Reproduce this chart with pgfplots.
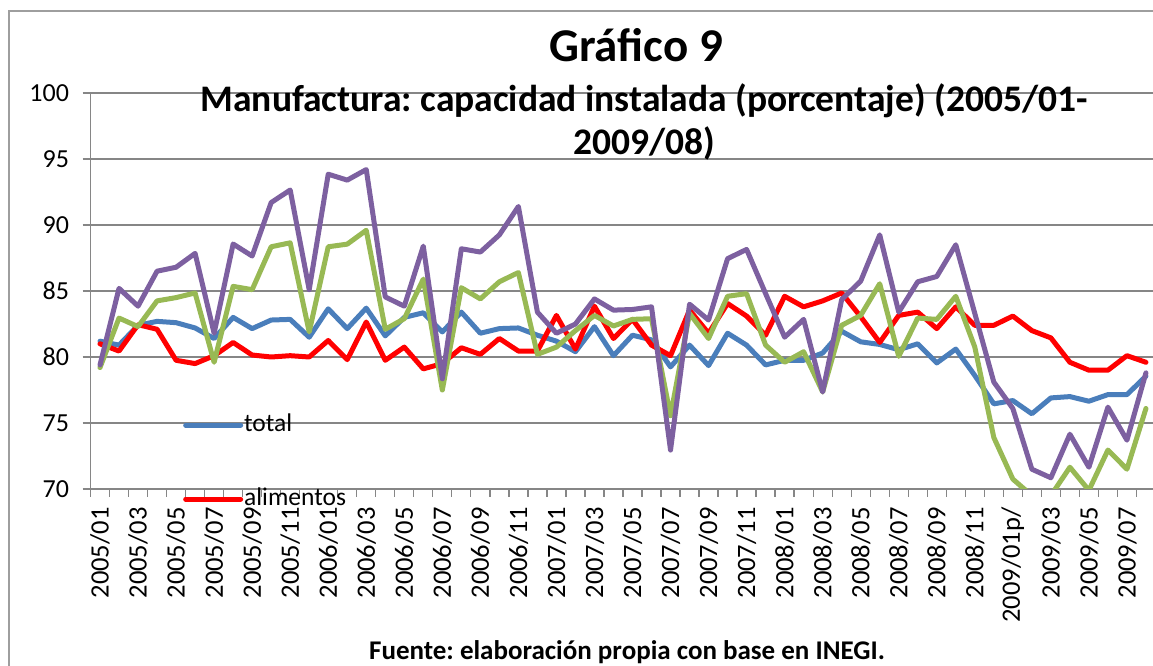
\documentclass[border=0pt]{standalone}
\usepackage{fontspec}
\setmainfont{Carlito}
\usepackage{pgfplots}
\pgfplotsset{compat=1.18}
\frenchspacing

\definecolor{cTotal}{HTML}{4A7EBB}
\definecolor{cAlim}{HTML}{FF0000}
\definecolor{cGreen}{HTML}{98B954}
\definecolor{cPurple}{HTML}{7D60A0}
\definecolor{cGrid}{HTML}{868686}

\pgfplotstableread{
i total alim verde morado
0 81.2 81.0 79.2 79.4
1 80.9 80.45 82.95 85.2
2 82.4 82.45 82.3 83.85
3 82.7 82.1 84.25 86.5
4 82.6 79.75 84.5 86.8
5 82.2 79.5 84.85 87.85
6 81.4 80.1 79.6 81.8
7 83.0 81.1 85.35 88.56
8 82.15 80.15 85.1 87.65
9 82.8 80.0 88.35 91.7
10 82.85 80.1 88.65 92.65
11 81.5 80.0 81.9 85.1
12 83.65 81.25 88.35 93.85
13 82.15 79.8 88.55 93.4
14 83.7 82.65 89.6 94.2
15 81.6 79.75 82.1 84.55
16 83.0 80.75 82.9 83.85
17 83.35 79.1 85.9 88.4
18 81.9 79.5 77.5 78.35
19 83.4 80.7 85.25 88.2
20 81.8 80.2 84.4 87.95
21 82.15 81.4 85.7 89.25
22 82.2 80.45 86.4 91.4
23 81.65 80.45 80.2 83.4
24 81.2 83.15 80.75 81.8
25 80.4 80.6 82.0 82.5
26 82.3 83.85 83.15 84.4
27 80.1 81.4 82.35 83.55
28 81.65 82.85 82.85 83.6
29 81.3 80.9 82.9 83.8
30 79.25 80.1 75.55 72.95
31 80.9 83.55 83.3 84.0
32 79.35 81.8 81.4 82.8
33 81.8 84.05 84.6 87.45
34 80.9 83.1 84.8 88.15
35 79.4 81.65 80.9 84.8
36 79.75 84.6 79.6 81.5
37 79.75 83.8 80.4 82.85
38 80.3 84.25 77.35 77.35
39 81.95 84.85 82.4 84.35
40 81.15 83.05 83.15 85.75
41 80.95 81.1 85.55 89.25
42 80.55 83.15 80.05 83.4
43 81.0 83.4 82.95 85.7
44 79.55 82.15 82.85 86.1
45 80.6 83.8 84.6 88.5
46 78.6 82.4 80.75 83.3
47 76.45 82.4 73.9 78.1
48 76.7 83.1 70.75 76.1
49 75.7 82.0 69.5 71.5
50 76.9 81.45 69.5 70.85
51 77.0 79.6 71.65 74.15
52 76.65 79.0 69.9 71.65
53 77.15 79.0 72.95 76.2
54 77.15 80.1 71.5 73.7
55 78.55 79.6 76.1 78.8
}\datatable

\begin{document}
\begin{tikzpicture}[x=1pt,y=1pt]
\path[use as bounding box] (0,0) rectangle (1153,666);
\draw[cGrid!80, line width=1.2pt] (9,-20) -- (9,655) -- (1180,655);
\begin{axis}[
  at={(90.5pt,177pt)}, anchor=south west,
  scale only axis, width=1065pt, height=396pt,
  xmin=-0.5, xmax=55.5, ymin=70, ymax=100,
  axis x line=bottom, axis y line=left,
  axis line style={-, draw=cGrid, line width=1.3pt},
  ytick={70,75,...,100}, ymajorgrids,
  grid style={cGrid, line width=1.3pt},
  xtick={-0.5,0.5,...,55.5}, xticklabels={},
  tick align=outside, major tick length=8pt,
  tick style={cGrid, line width=1.3pt},
  extra x ticks={0,2,...,54},
  extra x tick labels={2005/01,2005/03,2005/05,2005/07,2005/09,2005/11,2006/01,2006/03,2006/05,2006/07,2006/09,2006/11,2007/01,2007/03,2007/05,2007/07,2007/09,2007/11,2008/01,2008/03,2008/05,2008/07,2008/09,2008/11,2009/01p/,2009/03,2009/05,2009/07},
  extra x tick style={major tick length=0pt, grid=none},
  xticklabel style={rotate=90, anchor=east, font=\fontsize{26.5}{28}\selectfont},
  xticklabel shift=15pt,
  yticklabel style={font=\fontsize{26}{28}\selectfont},
  yticklabel shift=10pt,
  /pgf/number format/assume math mode=true,
  legend style={draw=none, fill=none, at={(0.0840,0.068)}, anchor=west,
    font=\fontsize{25.5}{28}\selectfont, row sep=48pt,
    nodes={inner sep=1pt, text height=18pt, text depth=6pt}},
  legend cell align=left,
  legend image code/.code={\draw[#1] (0pt,0pt) -- (55pt,0pt);},
  every axis plot/.append style={line width=5pt, line join=round, line cap=round},
]
\addplot[cTotal, no markers] table[x=i, y=total] {\datatable};
\addlegendentry{total}
\addplot[cAlim, no markers] table[x=i, y=alim] {\datatable};
\addlegendentry{alimentos}
\addplot[cGreen, no markers, forget plot] table[x=i, y=verde] {\datatable};
\addplot[cPurple, no markers, forget plot] table[x=i, y=morado] {\datatable};
\end{axis}
\node[font=\bfseries\fontsize{47}{50}\selectfont] at (636,621) {Gráfico 9};
\node[font=\bfseries\fontsize{37.5}{43}\selectfont, align=center] at (644,544.5) {Manufactura: capacidad instalada (porcentaje) (2005/01-\\2009/08)};
\node[font=\bfseries\fontsize{27}{30}\selectfont] at (627,14) {Fuente: elaboración propia con base en INEGI.};
\end{tikzpicture}
\end{document}
